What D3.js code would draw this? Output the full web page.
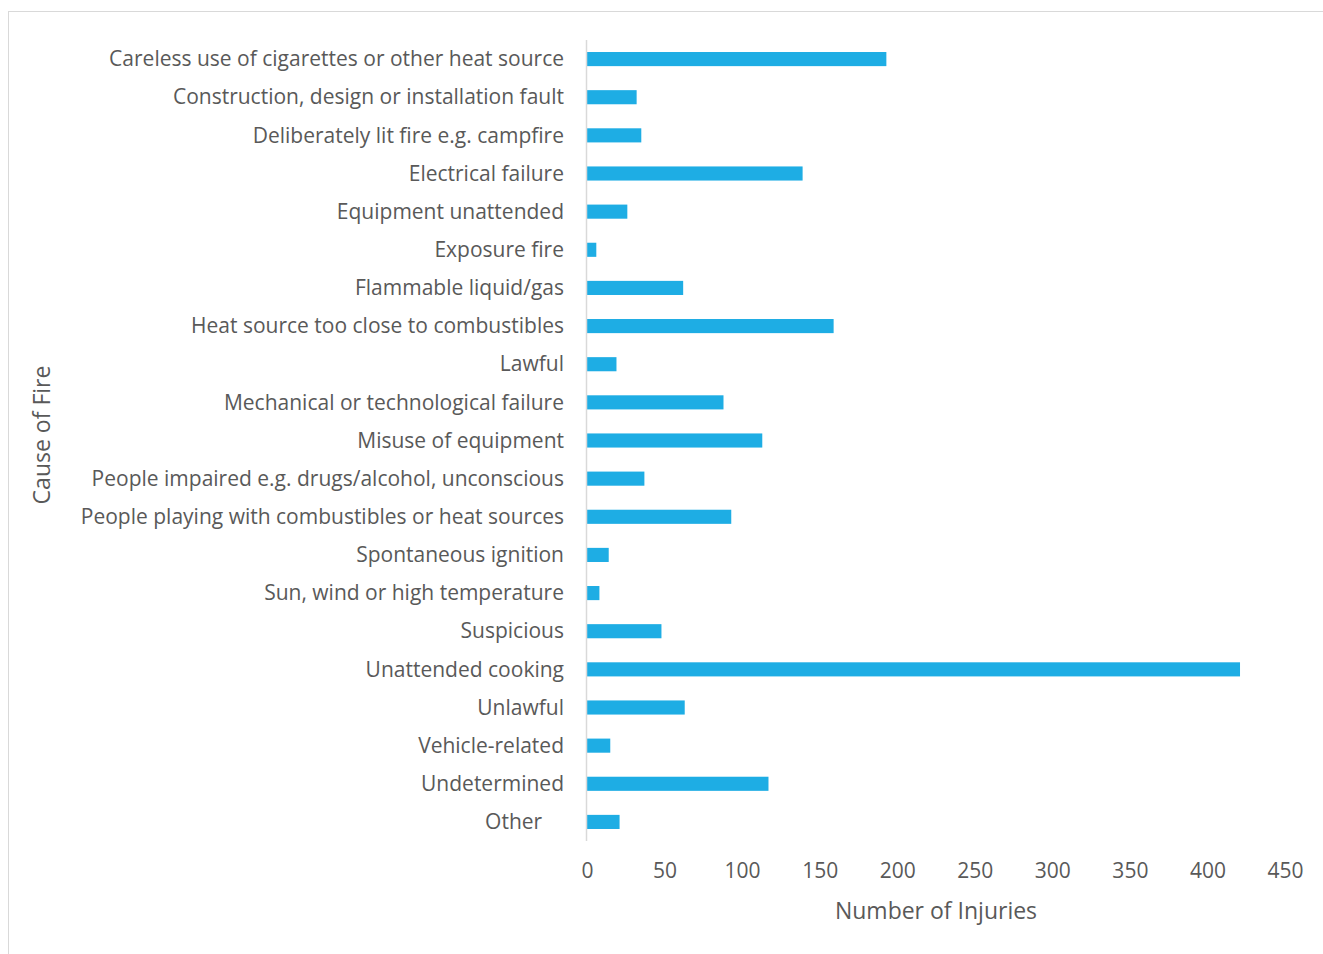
<!DOCTYPE html>
<html>
<head>
<meta charset="utf-8">
<script src="https://cdn.jsdelivr.net/npm/d3@7/dist/d3.min.js"></script>
<style>
  html, body { margin: 0; padding: 0; background: #fff; }
  svg text { font-family: "Open Sans", Lato, sans-serif; fill: #595959; }
</style>
</head>
<body>
<svg id="chart" width="1323" height="954"></svg>
<script>
// Injuries by cause of fire
const causes = [
  "Careless use of cigarettes or other heat source",
  "Construction, design or installation fault",
  "Deliberately lit fire e.g. campfire",
  "Electrical failure",
  "Equipment unattended",
  "Exposure fire",
  "Flammable liquid/gas",
  "Heat source too close to combustibles",
  "Lawful",
  "Mechanical or technological failure",
  "Misuse of equipment",
  "People impaired e.g. drugs/alcohol, unconscious",
  "People playing with combustibles or heat sources",
  "Spontaneous ignition",
  "Sun, wind or high temperature",
  "Suspicious",
  "Unattended cooking",
  "Unlawful",
  "Vehicle-related",
  "Undetermined",
  "Other"
];
const injuries = [193, 32, 35, 139, 26, 6, 62, 159, 19, 88, 113, 37, 93, 14, 8, 48, 421, 63, 15, 117, 21];
const xTicks = [0, 50, 100, 150, 200, 250, 300, 350, 400, 450];
const xTitle = "Number of Injuries";
const yTitle = "Cause of Fire";

const FONT = "'Open Sans', Lato, sans-serif";
const svg = d3.select("#chart");
const W = 1323, H = 954;

// outer chart frame
svg.append("rect")
  .attr("x", 8.5).attr("y", 11.5)
  .attr("width", W).attr("height", H)
  .attr("fill", "none").attr("stroke", "#d9d9d9").attr("stroke-width", 1);

const plot = { left: 587, right: 1285, top: 40, bottom: 841 };

const x = d3.scaleLinear().domain([0, 450]).range([plot.left, plot.right]);
const y = d3.scaleBand().domain(causes).range([plot.top, plot.bottom]).paddingInner(0.63).paddingOuter(0.315);

// bars
svg.append("g").selectAll("rect")
  .data(causes)
  .join("rect")
  .attr("x", x(0))
  .attr("y", d => y(d))
  .attr("width", (d, i) => x(injuries[i]) - x(0))
  .attr("height", y.bandwidth())
  .attr("fill", "#1EADE4");

// vertical axis line
svg.append("line")
  .attr("x1", x(0) - 0.5).attr("x2", x(0) - 0.5)
  .attr("y1", plot.top).attr("y2", plot.bottom)
  .attr("stroke", "#d9d9d9").attr("stroke-width", 1.5);

// category labels
const yAxis = d3.axisLeft(y).tickSize(0).tickPadding(23)
  .tickFormat(d => d === "Other" ? "Other\u00A0\u00A0\u00A0\u00A0" : d);
const gy = svg.append("g").attr("transform", `translate(${x(0)},0.5)`).call(yAxis);
gy.select(".domain").remove();
gy.selectAll("text").attr("font-size", 21).style("font-family", FONT).attr("fill", "#595959");

// value axis labels
const xAxis = d3.axisBottom(x).tickValues(xTicks).tickSize(0).tickPadding(0);
const gx = svg.append("g").attr("transform", `translate(0,${plot.bottom + 22})`).call(xAxis);
gx.select(".domain").remove();
gx.selectAll("text").attr("font-size", 21).style("font-family", FONT).attr("fill", "#595959");

// axis titles
svg.append("text")
  .attr("x", 936).attr("y", 919)
  .attr("text-anchor", "middle").attr("font-size", 23)
  .text(xTitle);

svg.append("text")
  .attr("transform", "translate(50,435) rotate(-90)")
  .attr("text-anchor", "middle").attr("font-size", 23)
  .text(yTitle);
</script>
</body>
</html>
